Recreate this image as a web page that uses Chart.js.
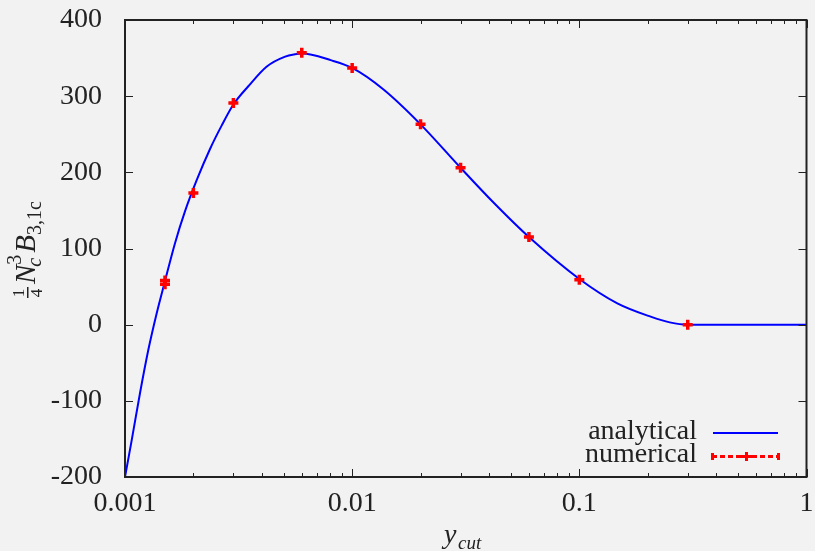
<!DOCTYPE html>
<html>
<head>
<meta charset="utf-8">
<style>
  body { margin: 0; background: #f2f2f2; }
  canvas { display: block; }
</style>
<script src="https://cdn.jsdelivr.net/npm/chart.js@4.4.1/dist/chart.umd.min.js"></script>
</head>
<body>
<canvas id="myChart" width="815" height="551"></canvas>
<script>
// analytical curve
const analyticX = [0.001, 0.00107, 0.001164, 0.001267, 0.001379, 0.00149, 0.00166, 0.001838, 0.00207, 0.00237, 0.00267, 0.003, 0.00349, 0.00421, 0.00507, 0.0056, 0.006, 0.0081, 0.01, 0.0137, 0.02, 0.03, 0.042, 0.06, 0.1, 0.147, 0.206, 0.25, 0.3, 1];
const analyticY = [-200, -152, -90, -33, 15, 54, 107, 149, 190, 231, 262, 289, 313, 339, 352, 355, 356, 347, 337, 309, 263, 206, 160, 115, 60, 28, 10.5, 3, 0, 0];

// numerical points
const numX = [0.0015, 0.0015, 0.002, 0.003, 0.006, 0.01, 0.02, 0.03, 0.06, 0.1, 0.3];
const numY = [58, 53, 173, 291, 357, 337, 263, 206, 115, 59, 0];

const xTicks = [0.001, 0.01, 0.1, 1];
const yTicks = [-200, -100, 0, 100, 200, 300, 400];

const FONT = "Liberation Serif";
const INK = "#222";

// frame, inward ticks, legend and axis titles (gnuplot look)
const decor = {
    id: "decor",
    beforeDraw(chart) {
        const c = chart.ctx;
        c.save();
        c.fillStyle = "#f2f2f2";
        c.fillRect(0, 0, chart.width, chart.height);
        c.restore();
    },
    afterDatasetsDraw(chart) {
        const c = chart.ctx;
        const a = chart.chartArea;
        const xs = chart.scales.x, ys = chart.scales.y;
        c.save();
        c.strokeStyle = INK;
        c.lineWidth = 1;
        c.beginPath();
        // x ticks, major + minor, bottom and top
        for (let d = 0.001; d < 1.5; d *= 10) {
            for (let m = 1; m <= 9; m++) {
                const v = d * m;
                if (v > 1.0001) break;
                const px = Math.round(xs.getPixelForValue(v)) + 0.5;
                const len = m === 1 ? 8 : 4;
                c.moveTo(px, a.bottom); c.lineTo(px, a.bottom - len);
                c.moveTo(px, a.top); c.lineTo(px, a.top + len);
            }
        }
        yTicks.forEach(v => {
            const py = Math.round(ys.getPixelForValue(v)) + 0.5;
            c.moveTo(a.left, py); c.lineTo(a.left + 8, py);
            c.moveTo(a.right, py); c.lineTo(a.right - 8, py);
        });
        c.stroke();
        c.lineWidth = 2;
        c.strokeRect(a.left, a.top, a.right - a.left, a.bottom - a.top);

        // legend
        c.fillStyle = INK;
        c.font = "28px '" + FONT + "'";
        c.textAlign = "right";
        c.textBaseline = "middle";
        c.fillText("analytical", 697, 432);
        c.fillText("numerical", 697, 455);
        c.strokeStyle = "#0000ff";
        c.lineWidth = 2;
        c.beginPath(); c.moveTo(713, 433); c.lineTo(778, 433); c.stroke();
        c.strokeStyle = "#ff0000";
        c.lineWidth = 3;
        c.setLineDash([5, 3]);
        c.beginPath(); c.moveTo(712, 456.5); c.lineTo(779, 456.5); c.stroke();
        c.setLineDash([]);
        c.beginPath();
        c.moveTo(741, 456.5); c.lineTo(752, 456.5);
        c.moveTo(746.5, 452); c.lineTo(746.5, 461);
        c.moveTo(712.5, 453); c.lineTo(712.5, 460);
        c.moveTo(778.5, 453); c.lineTo(778.5, 460);
        c.stroke();

        // x title: y_cut
        c.fillStyle = INK;
        c.textAlign = "left";
        c.textBaseline = "alphabetic";
        c.font = "italic 28px '" + FONT + "'";
        c.fillText("y", 444, 543);
        c.font = "italic 19px '" + FONT + "'";
        c.fillText("cut", 458, 549);

        // y title: 1/4 N_c^3 B_{3,1c}, rotated
        c.translate(35, 298);
        c.rotate(-Math.PI / 2);
        let x = 0;
        c.font = "17px '" + FONT + "'";
        c.textAlign = "center";
        c.fillText("1", x + 5, -11);
        c.fillText("4", x + 5, 7);
        c.fillRect(x, -8, 11, 1.5);
        x += 14;
        c.textAlign = "left";
        c.font = "italic 29px '" + FONT + "'";
        c.fillText("N", x, 0);
        x += c.measureText("N").width;
        c.font = "20px '" + FONT + "'";
        c.fillText("3", x, -14);
        c.font = "italic 20px '" + FONT + "'";
        c.fillText("c", x - 2, 6);
        x += 12;
        c.font = "italic 29px '" + FONT + "'";
        c.fillText("B", x, 0);
        x += c.measureText("B").width;
        c.font = "20px '" + FONT + "'";
        c.fillText("3,1c", x, 6);
        c.restore();
    }
};

function noPad(s) {
    s.paddingLeft = 0; s.paddingRight = 0; s.paddingTop = 0; s.paddingBottom = 0;
}

const ctx = document.getElementById("myChart").getContext("2d");
new Chart(ctx, {
    type: "line",
    data: {
        datasets: [{
            label: "analytical",
            data: analyticX.map((x, i) => ({ x: x, y: analyticY[i] })),
            borderColor: "#0000ff",
            borderWidth: 2,
            pointRadius: 0,
            cubicInterpolationMode: "monotone",
            fill: false,
            order: 2
        }, {
            label: "numerical",
            data: numX.map((x, i) => ({ x: x, y: numY[i] })),
            showLine: false,
            pointStyle: "cross",
            pointRadius: 5,
            borderWidth: 3.5,
            borderColor: "#ff0000",
            backgroundColor: "#ff0000",
            order: 1
        }]
    },
    options: {
        responsive: false,
        animation: false,
        devicePixelRatio: 1,
        layout: { padding: { top: 20, right: 8, left: 0, bottom: 0 } },
        plugins: { legend: { display: false }, tooltip: { enabled: false } },
        scales: {
            x: {
                type: "logarithmic",
                min: 0.001,
                max: 1,
                grid: { display: false },
                border: { display: false },
                afterBuildTicks: s => { s.ticks = xTicks.map(v => ({ value: v })); },
                afterFit: s => { s.height = 74; noPad(s); },
                ticks: {
                    color: INK,
                    font: { family: FONT, size: 28 },
                    padding: 2,
                    maxRotation: 0,
                    autoSkip: false,
                    callback: v => String(v)
                }
            },
            y: {
                min: -200,
                max: 400,
                grid: { display: false },
                border: { display: false },
                afterBuildTicks: s => { s.ticks = yTicks.map(v => ({ value: v })); },
                afterFit: s => { s.width = 125; noPad(s); },
                ticks: {
                    color: INK,
                    font: { family: FONT, size: 28 },
                    padding: 15
                }
            }
        }
    },
    plugins: [decor]
});
</script>
</body>
</html>
